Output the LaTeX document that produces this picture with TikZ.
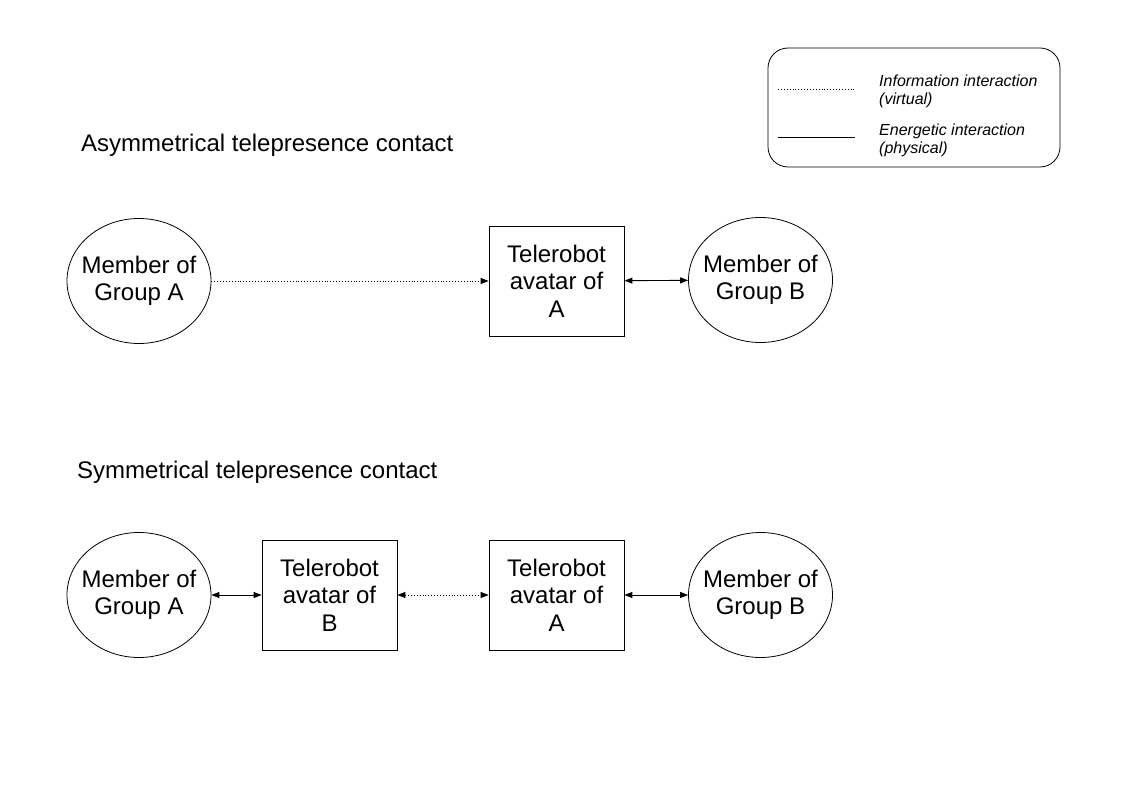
\documentclass[tikz,border=0pt]{standalone}
\usepackage{fontspec}
\setmainfont{Liberation Sans}
\usetikzlibrary{arrows.meta,shapes.geometric}
\begin{document}
\begin{tikzpicture}[x=1pt,y=-1pt,
  member/.style={draw,ellipse,minimum width=144pt,minimum height=125pt,inner xsep=-10pt,inner ysep=0pt,align=center,font=\fontsize{24}{27}\selectfont,line width=0.8pt},
  robot/.style={draw,rectangle,minimum width=135pt,minimum height=110pt,inner sep=0pt,align=center,font=\fontsize{24}{27.5}\selectfont,line width=0.8pt},
  virt/.style={dotted,line width=0.9pt},
  phys/.style={line width=0.9pt},
  tip/.style={-{Triangle[length=8pt,width=6pt]}},
  tips/.style={{Triangle[length=8pt,width=6pt]}-{Triangle[length=8pt,width=6pt]}},
  heading/.style={anchor=west,inner sep=0pt,font=\fontsize{24}{28}\selectfont},
  legtext/.style={anchor=west,inner sep=0pt,align=left,font=\fontsize{16}{18}\selectfont\itshape}
]
\useasboundingbox (0,0) rectangle (1123,794);
% legend
\node[draw,rounded corners=20pt,minimum width=292pt,minimum height=119pt,line width=0.8pt] (legend) at (914,107.5) {};
\coordinate (v1) at (778,89);
\coordinate (v2) at (855,89);
\coordinate (p1) at (778,137);
\coordinate (p2) at (855,137);
\draw[virt] (v1) -- (v2);
\draw[phys] (p1) -- (p2);
\node[legtext] (lv) at (879,91) {Information interaction\\(virtual)};
\node[legtext] (lp) at (879,140) {Energetic interaction\\(physical)};
% headings
\node[heading] (h1) at (81,145) {Asymmetrical telepresence contact};
\node[heading] (h2) at (77,472) {Symmetrical telepresence contact};
% top row
\node[member] (ta) at (139,281) {Member of\\Group A};
\node[robot] (tr) at (556.5,281) {Telerobot\\avatar of\\A};
\node[member] (tb) at (760.5,280) {Member of\\Group B};
\draw[virt,tip] (ta) -- (tr);
\draw[phys,tips] (tr) -- (tb);
% bottom row
\node[member] (ba) at (139,595) {Member of\\Group A};
\node[robot] (brb) at (329.5,595) {Telerobot\\avatar of\\B};
\node[robot] (bra) at (556.5,595) {Telerobot\\avatar of\\A};
\node[member] (bb) at (760.5,595) {Member of\\Group B};
\draw[phys,tips] (ba) -- (brb);
\draw[virt,tips] (brb) -- (bra);
\draw[phys,tips] (bra) -- (bb);
\end{tikzpicture}
\end{document}
